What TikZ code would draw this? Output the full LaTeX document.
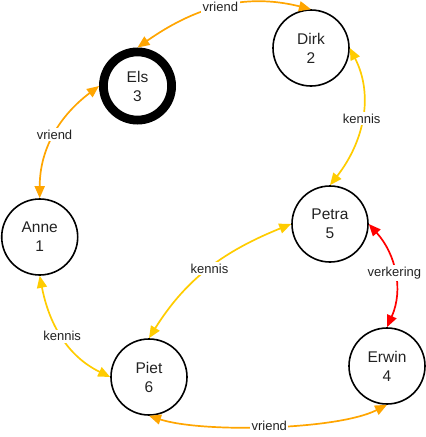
\documentclass[tikz,border=0pt]{standalone}
\usepackage{fontspec}
\setmainfont{Liberation Sans}
\usetikzlibrary{arrows.meta}
\definecolor{vriendc}{RGB}{255,165,0}
\definecolor{kennisc}{RGB}{255,204,0}
\definecolor{verkc}{RGB}{255,0,0}
\definecolor{lbl}{RGB}{34,34,34}
\begin{document}
\begin{tikzpicture}[x=1pt,y=1pt,
  person/.style={circle,draw=black,line width=1.6pt,minimum size=76pt,inner sep=0pt,
    align=center,font=\fontsize{15.5}{19}\selectfont,text=lbl},
  starperson/.style={person,line width=8.8pt,minimum size=68.2pt},
  rel/.style={line width=1.7pt,>={Triangle[length=12pt,width=10pt]},<->},
  evriend/.style={rel,draw=vriendc},
  ekennis/.style={rel,draw=kennisc},
  everkering/.style={rel,draw=verkc},
  lab/.style={fill=white,inner sep=1.5pt,font=\fontsize{13}{15}\selectfont,text=lbl}]
\useasboundingbox (0,0) rectangle (426,-437);
\node[starperson] (els) at (137.5,-86) {Els\\3};
\node[person] (dirk) at (311,-48) {Dirk\\2};
\node[person] (anne) at (39.7,-237) {Anne\\1};
\node[person] (petra) at (330,-224) {Petra\\5};
\node[person] (erwin) at (387,-366) {Erwin\\4};
\node[person] (piet) at (149,-377) {Piet\\6};
\draw[evriend] (els.north) to[out=35,in=166] node[lab] {vriend} (dirk.north);
\draw[evriend] (els.west) to[out=217,in=90] node[lab] {vriend} (anne.north);
\draw[ekennis] (anne.south) to[out=-79,in=154] node[lab] {kennis} (piet.west);
\draw[ekennis] (piet.north) to[out=58,in=202] node[lab] {kennis} (petra.west);
\draw[ekennis] (dirk.east) to[out=-63,in=52] node[lab] {kennis} (petra.north);
\draw[everkering] (petra.east) to[out=-48,in=66] node[lab] {verkering} (erwin.north);
\draw[evriend] (piet.south) to[out=-18,in=207,looseness=0.6] node[lab] {vriend} (erwin.south);
\end{tikzpicture}
\end{document}
